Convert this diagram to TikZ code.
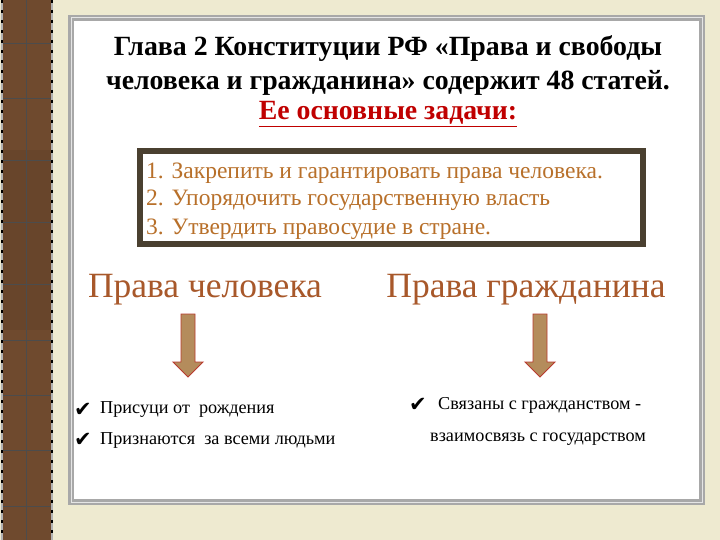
\documentclass[tikz,border=0pt]{standalone}
\usepackage{fontspec}
\setmainfont{Liberation Serif}
\newfontfamily\symfont{DejaVu Sans}
\definecolor{bgbeige}{HTML}{EEEAD0}
\definecolor{stripbrown}{HTML}{6F4A2E}
\definecolor{stripdark}{HTML}{4E3320}
\definecolor{framegray}{HTML}{A8A8A8}
\definecolor{boxborder}{HTML}{4A4030}
\definecolor{tasktext}{HTML}{B8702A}
\definecolor{headtext}{HTML}{A8582A}
\definecolor{titlered}{HTML}{C00000}
\definecolor{arrowfill}{HTML}{B48C5C}
\definecolor{arrowedge}{HTML}{B83A2E}
\begin{document}
\begin{tikzpicture}[x=1pt,y=-1pt,
  title/.style={font=\bfseries\fontsize{27.8}{32}\selectfont, inner sep=0pt},
  task/.style={font=\fontsize{23.5}{27}\selectfont, text=tasktext, anchor=west, inner sep=0pt},
  rhead/.style={font=\fontsize{35.5}{40}\selectfont, text=headtext, inner sep=0pt},
  bullet/.style={font=\fontsize{18.2}{21}\selectfont, anchor=west, inner sep=0pt},
  chk/.style={font=\symfont\fontsize{21}{23}\selectfont, anchor=west, inner sep=0pt},
  bigarrow/.style={fill=arrowfill, draw=arrowedge, line width=0.9pt, line join=miter}]
\useasboundingbox (0,0) rectangle (720,540);
\fill[bgbeige] (0,0) rectangle (720,540);
% left strip
\fill[stripbrown] (2,0) rectangle (52,540);
\fill[stripdark, opacity=0.2] (2,150) rectangle (52,330);
\foreach \yy in {43,98,160,222,284,340,395,450,506}
  \draw[black!70, line width=0.6pt] (2,\yy) -- (52,\yy);
\draw[black!70, line width=0.6pt] (26,0) -- (26,540);
\draw[gray!60, line width=1.2pt] (2,0) -- (2,540) (52,0) -- (52,540);
\draw[black, line width=1.2pt, dash pattern=on 3pt off 7pt] (2,0) -- (2,540) (52,0) -- (52,540);
% white panel with double gray frame
\fill[framegray] (68,15) rectangle (705,505);
\fill[gray!20] (70.5,17.5) rectangle (702.5,502.5);
\fill[framegray] (71.5,18.5) rectangle (701.5,501.5);
\fill[white] (74,21) rectangle (699,499);
% title
\node[title] (t1) at (388,49) {Глава 2 Конституции РФ «Права и свободы};
\node[title] (t2) at (388,83) {человека и гражданина» содержит 48 статей.};
\node[title, text=titlered] (t3) at (388,114) {\underline{Ее основные задачи:}};
% tasks box
\draw[boxborder, line width=6pt, fill=white] (140,151) rectangle (643,244);
\node[task] (k1) at (146,173) {1. Закрепить и гарантировать права человека.};
\node[task] (k2) at (146,200) {2. Упорядочить государственную власть};
\node[task] (k3) at (146,229) {3. Утвердить правосудие в стране.};
% headings
\node[rhead] (h1) at (205,290) {Права человека};
\node[rhead] (h2) at (526,290) {Права гражданина};
% arrows
\draw[bigarrow] (181,314) -- (195,314) -- (195,362) -- (203,362) -- (188,377) -- (173,362) -- (181,362) -- cycle;
\draw[bigarrow] (533,314) -- (547,314) -- (547,362) -- (555,362) -- (540,377) -- (525,362) -- (533,362) -- cycle;
% bullets left
\node[chk] (c1) at (74,410) {✔};
\node[bullet] (b1) at (100,410) {Присуци от\ \ рождения};
\node[chk] (c2) at (74,440) {✔};
\node[bullet] (b2) at (100,440) {Признаются\ \ за всеми людьми};
% bullets right
\node[chk] (c3) at (409,405) {✔};
\node[bullet] (b3) at (438,405) {Связаны с гражданством -};
\node[bullet] (b4) at (430,439) {взаимосвязь с государством};
\end{tikzpicture}
\end{document}
